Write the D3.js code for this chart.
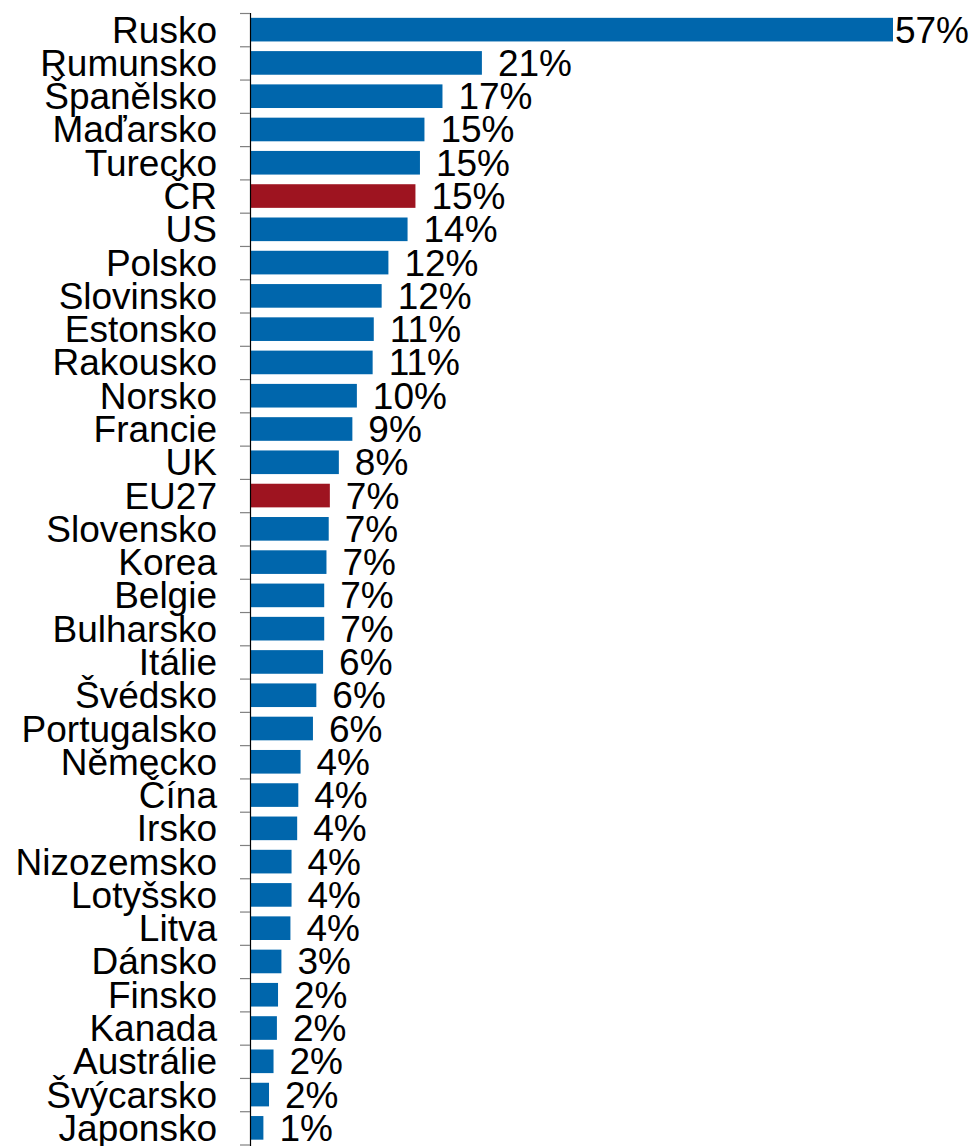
<html>
<head>
<meta charset="utf-8">
<script src="https://d3js.org/d3.v7.min.js"></script>
<style>
body {margin: 0; background: #fff;}
text {font-family: "Liberation Sans", Arial, sans-serif; fill: #000;}
</style>
</head>
<body>
<svg id="chart" width="971" height="1146"></svg>
<script>
// countries, top to bottom
var countries = ["Rusko", "Rumunsko", "Španělsko", "Maďarsko", "Turecko", "ČR", "US", "Polsko",
    "Slovinsko", "Estonsko", "Rakousko", "Norsko", "Francie", "UK", "EU27", "Slovensko", "Korea",
    "Belgie", "Bulharsko", "Itálie", "Švédsko", "Portugalsko", "Německo", "Čína", "Irsko",
    "Nizozemsko", "Lotyšsko", "Litva", "Dánsko", "Finsko", "Kanada", "Austrálie", "Švýcarsko", "Japonsko"];
// values (%)
var values = [57.0, 20.5, 17.0, 15.4, 15.0, 14.6, 13.9, 12.2,
    11.6, 10.9, 10.8, 9.4, 9.0, 7.8, 7.0, 6.9, 6.7,
    6.5, 6.5, 6.4, 5.8, 5.5, 4.4, 4.2, 4.1,
    3.6, 3.6, 3.5, 2.7, 2.4, 2.3, 2.0, 1.6, 1.1];
// value labels as printed
var labels = ["57%", "21%", "17%", "15%", "15%", "15%", "14%", "12%",
    "12%", "11%", "11%", "10%", "9%", "8%", "7%", "7%", "7%",
    "7%", "7%", "6%", "6%", "6%", "4%", "4%", "4%",
    "4%", "4%", "4%", "3%", "2%", "2%", "2%", "2%", "1%"];
var highlighted = ["ČR", "EU27"];

var blue = "#0066ac", red = "#9e1420";
var W = 971, fs = 37;
var yTop = 13, yBottom = 1144.5, axisX = 250, barX = 251;
var n = countries.length;

var data = countries.map(function(c, i) { return {name: c, value: values[i], label: labels[i]}; });

var y = d3.scaleBand().domain(countries).range([yTop, yBottom]).paddingInner(0.29).paddingOuter(0.145);
var yEdge = d3.scaleLinear().domain([0, n]).range([yTop, yBottom]);
var x = d3.scaleLinear().domain([0, d3.max(values)]).range([barX, 893]);

var svg = d3.select("#chart");

// bars
svg.append("g").selectAll("rect")
    .data(data)
    .enter()
    .append("rect")
        .attr("x", x(0))
        .attr("y", function(d) { return y(d.name); })
        .attr("width", function(d) { return x(d.value) - x(0); })
        .attr("height", y.bandwidth())
        .style("fill", function(d) { return highlighted.indexOf(d.name) >= 0 ? red : blue; });

// axis with ticks between categories
var axis = svg.append("g")
    .attr("transform", "translate(" + axisX + ",0)")
    .call(d3.axisLeft(yEdge).tickValues(d3.range(0, n + 1)).tickFormat("").tickSize(10).tickSizeOuter(0));
axis.select(".domain").attr("d", "M0.5," + yTop + "V1146").attr("stroke", "#000").attr("stroke-width", 1.2);
axis.selectAll(".tick line").attr("stroke", "#808080").attr("stroke-width", 1.2);

// category labels
svg.append("g").selectAll("text")
    .data(data)
    .enter()
    .append("text")
        .attr("x", 217)
        .attr("y", function(d) { return y(d.name) + y.bandwidth() / 2 + 13; })
        .attr("text-anchor", "end")
        .style("font-size", fs + "px")
        .text(function(d) { return d.name; });

// value labels
svg.append("g").selectAll("text")
    .data(data)
    .enter()
    .append("text")
        .attr("y", function(d) { return y(d.name) + y.bandwidth() / 2 + 13; })
        .style("font-size", fs + "px")
        .text(function(d) { return d.label; })
        .attr("x", function(d) {
            var len = this.getComputedTextLength();
            return Math.min(x(d.value) + 16, W - 2 - len);
        });
</script>
</body>
</html>
